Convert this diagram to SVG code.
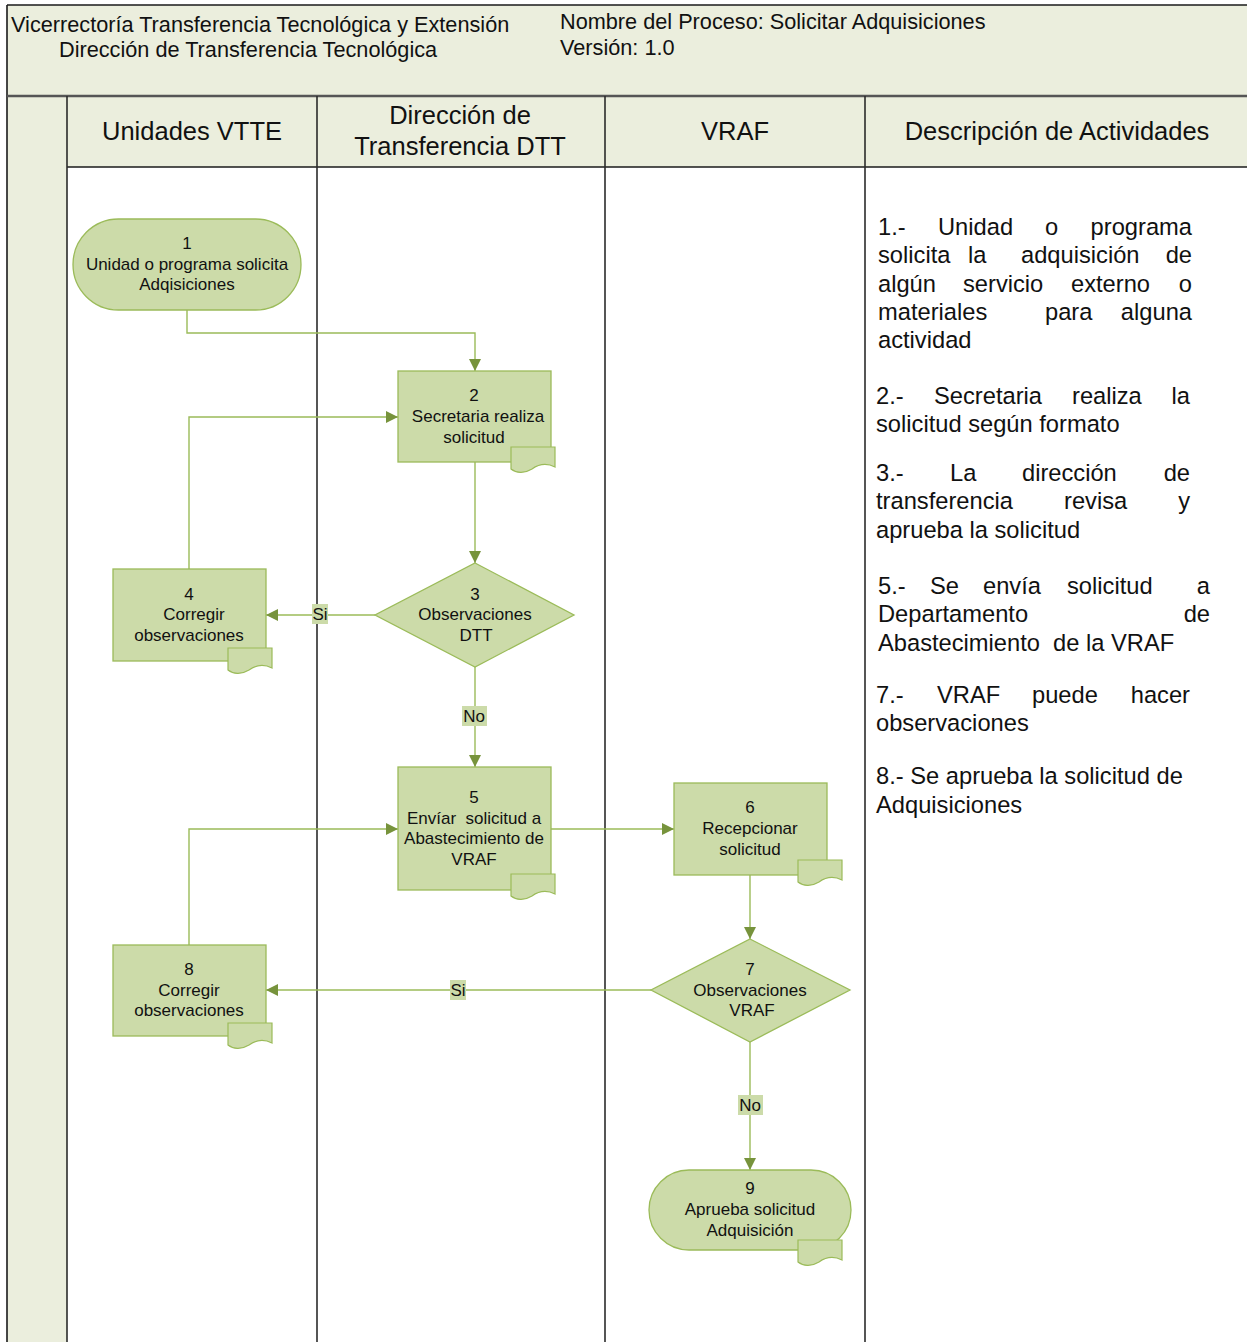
<svg xmlns="http://www.w3.org/2000/svg" width="1247" height="1342" viewBox="0 0 1247 1342">
  <style>
    .hdr { fill: #EBEEDD; }
    .lane { stroke: #2b2b2b; stroke-width: 1.6; }
    .title { font-family: "Liberation Sans", Arial, sans-serif; font-size: 21.7px; fill: #111; }
    .lanehead { font-family: "Liberation Sans", Arial, sans-serif; font-size: 25.5px; fill: #111; text-anchor: middle; }
    .desc { font-family: "Liberation Sans", Arial, sans-serif; font-size: 23.7px; fill: #111; }
    .shape { fill: #CCDBA9; stroke: #9BBB59; stroke-width: 1.3; }
    .doc { fill: #CCDBA9; stroke: #9BBB59; stroke-width: 1.2; }
    .node text { font-family: "Liberation Sans", Arial, sans-serif; font-size: 17px; fill: #111; text-anchor: middle; }
    .conn { fill: none; stroke: #9BBB59; stroke-width: 1.4; }
    .lbl { fill: #CCDBA9; }
    .lbltxt { font-family: "Liberation Sans", Arial, sans-serif; font-size: 17px; fill: #111; text-anchor: middle; }
  </style>
  <defs>
    <marker id="arrow" viewBox="0 0 10 10" refX="10" refY="5" markerWidth="12" markerHeight="12" markerUnits="userSpaceOnUse" orient="auto">
      <path d="M0,0 L10,5 L0,10 Z" fill="#77933C"/>
    </marker>
    <!-- small document badge attached to process shapes -->
    <path id="docicon" class="doc" d="M0,0 H44 V20 C36,16 28,17 21,22 C13,27 5,26 0,22 Z"/>
  </defs>

  <!-- background / frame -->
  <rect x="0" y="0" width="1247" height="1342" fill="#ffffff"/>
  <rect class="hdr" x="7" y="5" width="1240" height="91"/>
  <rect class="hdr" x="7" y="96" width="60" height="1246"/>
  <rect class="hdr" x="67" y="96" width="1180" height="71"/>
  <line x1="7" y1="5" x2="1247" y2="5" stroke="#1a1a1a" stroke-width="1.3"/>
  <line x1="7" y1="5" x2="7" y2="1342" stroke="#1a1a1a" stroke-width="1.6"/>
  <line x1="7" y1="96" x2="1247" y2="96" stroke="#555" stroke-width="2.4"/>
  <line x1="67" y1="167" x2="1247" y2="167" stroke="#1a1a1a" stroke-width="1.3"/>
  <line class="lane" x1="67" y1="96" x2="67" y2="1342"/>
  <line class="lane" x1="317" y1="96" x2="317" y2="1342"/>
  <line class="lane" x1="605" y1="96" x2="605" y2="1342"/>
  <line class="lane" x1="865" y1="96" x2="865" y2="1342"/>

  <!-- title block -->
  <text class="title" x="11" y="32">Vicerrectoría Transferencia Tecnológica y Extensión</text>
  <text class="title" x="59" y="57">Dirección de Transferencia Tecnológica</text>
  <text class="title" x="560" y="29">Nombre del Proceso: Solicitar Adquisiciones</text>
  <text class="title" x="560" y="55">Versión: 1.0</text>

  <!-- lane headers -->
  <text class="lanehead" x="192" y="140">Unidades VTTE</text>
  <text class="lanehead" x="460" y="124">Dirección de</text>
  <text class="lanehead" x="460" y="155">Transferencia DTT</text>
  <text class="lanehead" x="735" y="140">VRAF</text>
  <text class="lanehead" x="1057" y="140">Descripción de Actividades</text>

  <!-- activity descriptions -->
  <g id="descriptions" class="desc">
    <text x="878" y="235">1.-</text>
    <text x="938" y="235">Unidad</text>
    <text x="1045" y="235">o</text>
    <text x="1192" y="235" text-anchor="end">programa</text>
    <text x="878" y="263">solicita</text>
    <text x="968" y="263">la</text>
    <text x="1021" y="263">adquisición</text>
    <text x="1192" y="263" text-anchor="end">de</text>
    <text x="878" y="292">algún</text>
    <text x="963" y="292">servicio</text>
    <text x="1071" y="292">externo</text>
    <text x="1192" y="292" text-anchor="end">o</text>
    <text x="878" y="320">materiales</text>
    <text x="1045" y="320">para</text>
    <text x="1192" y="320" text-anchor="end">alguna</text>
    <text x="878" y="348">actividad</text>

    <text x="876" y="404">2.-</text>
    <text x="934" y="404">Secretaria</text>
    <text x="1072" y="404">realiza</text>
    <text x="1190" y="404" text-anchor="end">la</text>
    <text x="876" y="432">solicitud según formato</text>

    <text x="876" y="481">3.-</text>
    <text x="950" y="481">La</text>
    <text x="1022" y="481">dirección</text>
    <text x="1190" y="481" text-anchor="end">de</text>
    <text x="876" y="509">transferencia</text>
    <text x="1064" y="509">revisa</text>
    <text x="1190" y="509" text-anchor="end">y</text>
    <text x="876" y="538">aprueba la solicitud</text>

    <text x="878" y="594">5.-</text>
    <text x="930" y="594">Se</text>
    <text x="983" y="594">envía</text>
    <text x="1067" y="594">solicitud</text>
    <text x="1210" y="594" text-anchor="end">a</text>
    <text x="878" y="622">Departamento</text>
    <text x="1210" y="622" text-anchor="end">de</text>
    <text x="878" y="651" xml:space="preserve">Abastecimiento  de la VRAF</text>

    <text x="876" y="703">7.-</text>
    <text x="937" y="703">VRAF</text>
    <text x="1032" y="703">puede</text>
    <text x="1190" y="703" text-anchor="end">hacer</text>
    <text x="876" y="731">observaciones</text>

    <text x="876" y="784">8.- Se aprueba la solicitud de</text>
    <text x="876" y="813">Adquisiciones</text>
  </g>

  <!-- connectors -->
  <g id="connectors">
    <path class="conn" d="M187,310 V333 H475 V371" marker-end="url(#arrow)"/>
    <path class="conn" d="M475,462 V563" marker-end="url(#arrow)"/>
    <path class="conn" d="M375,615 H266" marker-end="url(#arrow)"/>
    <path class="conn" d="M189,569 V417 H398" marker-end="url(#arrow)"/>
    <path class="conn" d="M475,667 V767" marker-end="url(#arrow)"/>
    <path class="conn" d="M551,829 H674" marker-end="url(#arrow)"/>
    <path class="conn" d="M750,875 V939" marker-end="url(#arrow)"/>
    <path class="conn" d="M651,990 H266" marker-end="url(#arrow)"/>
    <path class="conn" d="M189,945 V829 H398" marker-end="url(#arrow)"/>
    <path class="conn" d="M750,1042 V1170" marker-end="url(#arrow)"/>

    <rect class="lbl" x="312" y="604" width="16" height="20"/>
    <text class="lbltxt" x="320" y="620">Si</text>
    <rect class="lbl" x="462" y="706" width="25" height="20"/>
    <text class="lbltxt" x="474" y="722">No</text>
    <rect class="lbl" x="450" y="980" width="16" height="20"/>
    <text class="lbltxt" x="458" y="996">Si</text>
    <rect class="lbl" x="738" y="1095" width="25" height="20"/>
    <text class="lbltxt" x="750" y="1111">No</text>
  </g>

  <!-- nodes -->
  <g id="node1" class="node">
    <rect class="shape" x="73" y="219" width="228" height="91" rx="45.5" ry="45.5"/>
    <text x="187" y="249">1</text>
    <text x="187" y="270">Unidad o programa solicita</text>
    <text x="187" y="290">Adqisiciones</text>
  </g>

  <g id="node2" class="node">
    <rect class="shape" x="398" y="371" width="153" height="91"/>
    <use href="#docicon" x="511" y="447"/>
    <text x="474" y="401">2</text>
    <text x="478" y="422">Secretaria realiza</text>
    <text x="474" y="443">solicitud</text>
  </g>

  <g id="node3" class="node">
    <polygon class="shape" points="475,563 574,615 475,667 375,615"/>
    <text x="475" y="600">3</text>
    <text x="475" y="620">Observaciones</text>
    <text x="476" y="641">DTT</text>
  </g>

  <g id="node4" class="node">
    <rect class="shape" x="113" y="569" width="153" height="92"/>
    <use href="#docicon" x="228" y="648"/>
    <text x="189" y="600">4</text>
    <text x="194" y="620">Corregir</text>
    <text x="189" y="641">observaciones</text>
  </g>

  <g id="node5" class="node">
    <rect class="shape" x="398" y="767" width="153" height="123"/>
    <use href="#docicon" x="511" y="874"/>
    <text x="474" y="803">5</text>
    <text x="474" y="824" xml:space="preserve">Envíar  solicitud a</text>
    <text x="474" y="844">Abastecimiento de</text>
    <text x="474" y="865">VRAF</text>
  </g>

  <g id="node6" class="node">
    <rect class="shape" x="674" y="783" width="153" height="92"/>
    <use href="#docicon" x="798" y="860"/>
    <text x="750" y="813">6</text>
    <text x="750" y="834">Recepcionar</text>
    <text x="750" y="855">solicitud</text>
  </g>

  <g id="node7" class="node">
    <polygon class="shape" points="750,939 850,990 750,1042 651,990"/>
    <text x="750" y="975">7</text>
    <text x="750" y="996">Observaciones</text>
    <text x="752" y="1016">VRAF</text>
  </g>

  <g id="node8" class="node">
    <rect class="shape" x="113" y="945" width="153" height="91"/>
    <use href="#docicon" x="228" y="1023"/>
    <text x="189" y="975">8</text>
    <text x="189" y="996">Corregir</text>
    <text x="189" y="1016">observaciones</text>
  </g>

  <g id="node9" class="node">
    <rect class="shape" x="649" y="1170" width="202" height="80" rx="40" ry="40"/>
    <use href="#docicon" x="798" y="1240"/>
    <text x="750" y="1194">9</text>
    <text x="750" y="1215">Aprueba solicitud</text>
    <text x="750" y="1236">Adquisición</text>
  </g>
</svg>
